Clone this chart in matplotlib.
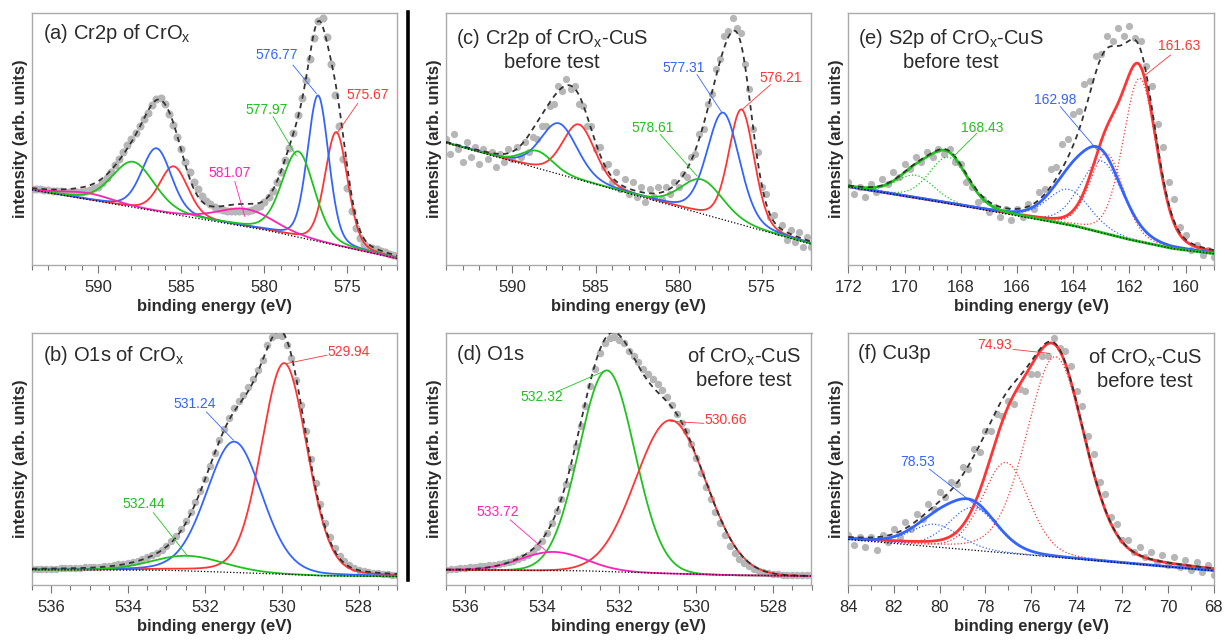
import numpy as np
import matplotlib
matplotlib.use("Agg")
import matplotlib.pyplot as plt
from matplotlib.ticker import MultipleLocator

plt.rcParams['font.family'] = ['Liberation Sans', 'DejaVu Sans']
plt.rcParams['mathtext.default'] = 'regular'

RED = '#ff3535'
BLUE = '#3464ff'
GREEN = '#1fc21f'
MAGENTA = '#ff22b4'
DOT = '#b6b6b6'
TXT = '#2b2b2b'

# ---------------- measured points (arb. units) ----------------
# (a) Cr2p of CrOx, 594 -> 572 eV
a_span = (594.0, 572.0)
a_counts = [30.3, 30.1, 30.0, 29.8, 29.6, 29.4, 29.3, 29.2, 29.1, 29.1, 29.0, 29.0, 29.1,
            29.3, 29.8, 30.5, 31.0, 32.5, 34.5, 37.0, 39.5, 42.0, 44.8, 47.5, 50.0, 52.5,
            55.0, 57.8, 60.5, 63.5, 66.0, 66.5, 64.0, 60.0, 55.5, 51.0, 46.0, 41.0, 37.0,
            33.0, 30.0, 27.5, 25.5, 24.0, 23.0, 22.2, 21.8, 21.5, 21.3, 21.2, 21.2, 21.3,
            21.5, 21.8, 22.4, 23.4, 25.0, 26.8, 29.5, 33.0, 37.0, 41.5, 46.5, 52.5, 59.5,
            66.5, 73.5, 82.0, 90.0, 97.0, 98.0, 90.5, 80.0, 67.5, 55.0, 42.0, 30.5, 21.5,
            14.5, 10.5, 8.2, 7.2, 6.6, 6.1, 5.6, 5.0, 4.4, 3.9, 3.4]

# (c) Cr2p of CrOx-CuS, 594 -> 572 eV
c_span = (594.0, 572.0)
c_counts = [50, 44, 52, 46, 41, 49, 43, 47, 40, 46, 42, 45, 39, 44, 41, 46, 42, 47, 43,
            49, 45, 51, 50, 55, 55, 63, 64, 71, 69, 74, 70, 71, 64, 63, 55, 55, 46, 47,
            39, 40, 33, 37, 30, 34, 28, 33, 27, 31, 25, 30, 27, 31, 26, 31, 28, 33, 31,
            36, 35, 43, 44, 52, 54, 64, 68, 78, 82, 91, 93, 98, 94, 92, 80, 70, 54, 45,
            31, 28, 19, 20, 13, 16, 10, 14, 9, 13, 7, 11, 7]

# (e) S2p of CrOx-CuS, 172 -> 159 eV
e_span = (172.0, 159.0)
e_counts = [33, 28, 31, 27, 32, 29, 34, 32, 37, 35, 40, 38, 43, 41, 45, 43, 46, 44, 46,
            41, 40, 33, 31, 25, 26, 21, 23, 19, 22, 18, 22, 19, 24, 22, 29, 30, 38, 39,
            48, 50, 60, 61, 72, 73, 83, 84, 91, 89, 94, 91, 95, 90, 89, 79, 71, 56, 47,
            33, 26, 15, 12, 6, 8, 4, 6, 3]

# (b) O1s of CrOx, 536.5 -> 527 eV
b_span = (536.5, 527.0)
b_counts = [6.2, 6.2, 6.3, 6.3, 6.4, 6.4, 6.5, 6.5, 6.6, 6.7, 6.8, 6.9, 7.0, 7.1, 7.2,
            7.4, 7.6, 7.9, 8.1, 8.4, 8.7, 9.1, 9.5, 10.2, 10.9, 11.7, 12.7, 13.9, 15.5,
            17.3, 19.5, 22.2, 25.3, 28.8, 32.9, 37.3, 42.2, 47.2, 52.3, 57.4, 62.1, 66.5,
            70.2, 73.0, 75.5, 78.5, 82.0, 85.5, 89.5, 95.5, 98.5, 99.5, 99.0, 95.5, 90.0,
            81.5, 71.5, 61.0, 50.0, 40.5, 32.0, 24.5, 19.0, 14.5, 11.5, 9.3, 7.8, 6.8,
            6.0, 5.4, 5.0, 4.7, 4.5, 4.3, 4.2, 4.0, 3.9]

# (d) O1s of CrOx-CuS, 536.5 -> 527 eV
d_span = (536.5, 527.0)
d_counts = [6.0, 6.2, 6.4, 6.6, 6.8, 7.0, 7.2, 7.4, 7.6, 7.8, 8.0, 8.3, 8.7, 9.1, 9.6,
            10.2, 11.0, 12.0, 13.3, 15.0, 17.5, 20.5, 24.5, 29.5, 34.0, 40.0, 47.0, 55.0,
            63.0, 71.0, 79.0, 86.0, 92.0, 96.0, 98.0, 98.5, 97.5, 96.0, 93.0, 91.0, 88.5,
            86.0, 84.0, 82.0, 80.0, 77.5, 74.5, 71.5, 68.0, 64.5, 61.0, 56.0, 50.3, 44.5,
            39.0, 34.0, 29.0, 24.5, 20.0, 15.5, 12.5, 10.3, 8.6, 7.3, 6.2, 5.5, 5.0, 4.6,
            4.3, 4.1, 4.0, 3.9, 3.9, 3.8, 3.8, 3.7, 3.7]

# (f) Cu3p of CrOx-CuS, 84 -> 68 eV
f_span = (84.0, 68.0)
f_counts = [20, 16, 19, 15, 19, 14, 20, 17, 22, 19, 25, 22, 28, 26, 32, 30, 37, 35, 41,
            40, 47, 46, 54, 53, 61, 61, 68, 67, 73, 72, 78, 77, 84, 84, 91, 91, 98, 94,
            93, 87, 77, 71, 59, 52, 41, 36, 27, 24, 18, 18, 13, 15, 11, 13, 9, 12, 8, 11,
            7, 10, 6, 9, 5, 8, 4]

# ---------------- fitted components ----------------
# background anchors (energy, intensity)
a_bg = ([594, 580, 572], [29.8, 13.9, 2.5])
c_bg = ([594, 572], [48.5, 8.2])
e_bg = ([172, 169, 166, 164, 162, 160.5, 159], [31, 25.5, 19.5, 15.5, 10, 6.5, 4.4])
b_bg = ([536.5, 533, 531, 529, 527], [6.0, 5.8, 4.8, 3.6, 3.3])
d_bg = ([536.5, 533, 531, 529, 527], [6.0, 5.6, 4.6, 3.8, 3.5])
f_bg = ([84, 68], [18.0, 5.6])

# per component: colour, peak centres, heights, FWHM
a_colors = [RED, BLUE, GREEN, MAGENTA]
a_pos = [[575.67, 585.45], [576.77, 586.49], [577.97, 587.90], [581.07, 590.60]]
a_amp = [[45, 19], [58, 25], [34, 18], [7, 2.5]]
a_fwhm = [[1.6, 2.0], [1.5, 2.1], [2.3, 3.0], [4.0, 3.5]]

c_colors = [RED, BLUE, GREEN]
c_pos = [[576.21, 586.00], [577.31, 587.20], [578.61, 588.50]]
c_amp = [[45.8, 21.9], [42.5, 20.1], [13.6, 6.8]]
c_fwhm = [[1.8, 2.3], [2.3, 2.6], [3.0, 2.2]]

e_colors = [RED, BLUE, GREEN]
e_pos = [[161.63, 162.81], [162.98, 164.16], [168.43, 169.61]]
e_amp = [[65, 32], [28.5, 14.2], [18.4, 9.0]]
e_fwhm = [[1.4, 1.4], [1.8, 1.8], [1.6, 1.6]]

b_colors = [RED, BLUE, GREEN]
b_pos = [[529.94], [531.24], [532.44]]
b_amp = [[84], [52], [6]]
b_fwhm = [[1.4], [1.7], [2.2]]

d_colors = [GREEN, RED, MAGENTA]
d_pos = [[532.32], [530.66], [533.72]]
d_amp = [[80], [61], [7.4]]
d_fwhm = [[1.7], [2.15], [2.0]]

f_colors = [RED, BLUE]
f_pos = [[74.93, 77.10], [78.53, 80.20]]
f_amp = [[79.7, 36], [17, 9]]
f_fwhm = [[3.0, 2.4], [2.5, 2.5]]

# peak labels: text, colour, text pos, leader start, leader end
a_labels = [("576.77", BLUE, (579.28, 83.3), (578.28, 79.4), (576.87, 68.1)),
            ("575.67", RED, (573.77, 67.5), (574.38, 64.2), (575.64, 52.2)),
            ("577.97", GREEN, (579.88, 61.5), (579.48, 58.9), (578.08, 43.3)),
            ("581.07", MAGENTA, (582.08, 36.4), (581.78, 33.1), (581.18, 19.2))]
c_labels = [("577.31", BLUE, (579.69, 78.2), (578.89, 75.6), (577.38, 60.4)),
            ("576.21", RED, (573.87, 74.2), (574.47, 71.6), (576.18, 61.7)),
            ("578.61", GREEN, (581.54, 54.4), (581.10, 51.8), (578.89, 35.3))]
e_labels = [("161.63", RED, (160.24, 86.8), (160.54, 83.4), (161.43, 75.5)),
            ("162.98", BLUE, (164.64, 65.6), (164.46, 62.9), (163.15, 45.7)),
            ("168.43", GREEN, (167.25, 54.3), (167.43, 52.3), (168.26, 43.0))]
b_labels = [("529.94", RED, (528.27, 92.7), (528.83, 91.3), (529.87, 88.0)),
            ("531.24", BLUE, (532.26, 72.0), (531.96, 68.7), (531.26, 57.5)),
            ("532.44", GREEN, (533.60, 32.0), (533.34, 28.7), (532.48, 12.0))]
d_labels = [("532.32", GREEN, (534.01, 74.8), (533.62, 76.8), (532.41, 84.8)),
            ("530.66", RED, (529.24, 65.6), (529.80, 64.2), (530.67, 65.0)),
            ("533.72", MAGENTA, (535.16, 28.9), (534.83, 25.8), (533.88, 13.2))]
f_labels = [("74.93", RED, (77.60, 95.3), (76.79, 93.6), (75.18, 92.0)),
            ("78.53", BLUE, (80.97, 48.7), (80.45, 46.0), (77.52, 25.3))]


def voigt(e, centre, height, fwhm, eta):
    x = (e - centre) / fwhm
    g = np.exp(-4 * np.log(2) * x ** 2)
    lor = 1.0 / (1.0 + 4 * x ** 2)
    return height * ((1 - eta) * g + eta * lor)


def draw_panel(ax, span, counts, bg, colors, pos, amp, fwhm, labels,
               doublet=False, eta=0.2, ms=5.4):
    e_pts = np.linspace(span[0], span[1], len(counts))
    ax.plot(e_pts, counts, 'o', ms=ms, color=DOT, mec='none', zorder=1)

    e = np.linspace(span[0], span[1], 600)
    base = np.interp(e, bg[0][::-1], bg[1][::-1])
    total = base.copy()
    for col, p, h, w in zip(colors, pos, amp, fwhm):
        parts = [voigt(e, pi, hi, wi, eta) for pi, hi, wi in zip(p, h, w)]
        if doublet:
            for part in parts:
                ax.plot(e, base + part, ':', color=col, lw=0.9, zorder=2)
            ax.plot(e, base + sum(parts), '-', color=col, lw=2.0, zorder=3)
        else:
            ax.plot(e, base + sum(parts), '-', color=col, lw=1.3, zorder=3)
        total += sum(parts)
    ax.plot(e, total, color='#333333', lw=1.3, dashes=(3, 2.4), zorder=4)
    ax.plot(e, base, color='black', lw=0.9, dashes=(1, 1.6), zorder=5)

    for txt, col, tp, p0, p1 in labels:
        ax.plot([p0[0], p1[0]], [p0[1], p1[1]], color=col, lw=0.6, zorder=6)
        ax.text(tp[0], tp[1], txt, color=col, fontsize=10, ha='center', va='center', zorder=7)

    ax.set_xlim(span)
    ax.set_ylim(0, 100)
    ax.set_yticks([])
    for s in ax.spines.values():
        s.set_color('#aaaaaa')
        s.set_linewidth(1.0)
    ax.tick_params(axis='x', which='major', direction='out', length=6, width=0.8,
                   color='#777777', labelsize=12, labelcolor=TXT, pad=5)
    ax.tick_params(axis='x', which='minor', direction='out', length=3.5, width=0.8,
                   color='#777777')
    ax.set_xlabel('binding energy (eV)', fontsize=12, fontweight='bold', color=TXT, labelpad=3)
    ax.set_ylabel('intensity (arb. units)', fontsize=12, fontweight='bold', color=TXT, labelpad=3)


fig = plt.figure(figsize=(12.25, 6.41), dpi=100)
W, H = 1225.0, 641.0
lefts = [31.8, 446.0, 848.3]
tops = [13.3, 333.3]
aw, ah = 365.5, 251.5


def make_axes(col, row):
    return fig.add_axes([lefts[col] / W, 1 - (tops[row] + ah) / H, aw / W, ah / H])


ax_a = make_axes(0, 0)
ax_b = make_axes(0, 1)
ax_c = make_axes(1, 0)
ax_d = make_axes(1, 1)
ax_e = make_axes(2, 0)
ax_f = make_axes(2, 1)

draw_panel(ax_a, a_span, a_counts, a_bg, a_colors, a_pos, a_amp, a_fwhm, a_labels, ms=5.8)
draw_panel(ax_c, c_span, c_counts, c_bg, c_colors, c_pos, c_amp, c_fwhm, c_labels, ms=5.2)
draw_panel(ax_e, e_span, e_counts, e_bg, e_colors, e_pos, e_amp, e_fwhm, e_labels,
           doublet=True, ms=5.2)
draw_panel(ax_b, b_span, b_counts, b_bg, b_colors, b_pos, b_amp, b_fwhm, b_labels, eta=0.15)
draw_panel(ax_d, d_span, d_counts, d_bg, d_colors, d_pos, d_amp, d_fwhm, d_labels, eta=0.0)
draw_panel(ax_f, f_span, f_counts, f_bg, f_colors, f_pos, f_amp, f_fwhm, f_labels,
           doublet=True, ms=5.2)

for ax in (ax_a, ax_c):
    ax.xaxis.set_major_locator(MultipleLocator(5))
    ax.xaxis.set_minor_locator(MultipleLocator(1))
for ax in (ax_b, ax_d, ax_e):
    ax.xaxis.set_major_locator(MultipleLocator(2))
    ax.xaxis.set_minor_locator(MultipleLocator(0.5))
ax_f.xaxis.set_major_locator(MultipleLocator(2))
ax_f.xaxis.set_minor_locator(MultipleLocator(1))

title_kw = dict(fontsize=14.5, color=TXT, va='center')
ax_a.text(0.031, 0.92, '(a) Cr2p of CrO$_x$', transform=ax_a.transAxes, ha='left', **title_kw)
ax_b.text(0.031, 0.913, '(b) O1s of CrO$_x$', transform=ax_b.transAxes, ha='left', **title_kw)
ax_c.text(0.29, 0.857, '(c) Cr2p of CrO$_x$-CuS\nbefore test', transform=ax_c.transAxes,
          ha='center', multialignment='center', **title_kw)
ax_d.text(0.029, 0.914, '(d) O1s', transform=ax_d.transAxes, ha='left', **title_kw)
ax_d.text(0.815, 0.861, 'of CrO$_x$-CuS\nbefore test', transform=ax_d.transAxes,
          ha='center', multialignment='center', **title_kw)
ax_e.text(0.28, 0.857, '(e) S2p of CrO$_x$-CuS\nbefore test', transform=ax_e.transAxes,
          ha='center', multialignment='center', **title_kw)
ax_f.text(0.027, 0.92, '(f) Cu3p', transform=ax_f.transAxes, ha='left', **title_kw)
ax_f.text(0.812, 0.86, 'of CrO$_x$-CuS\nbefore test', transform=ax_f.transAxes,
          ha='center', multialignment='center', **title_kw)

# separator between the CrOx and CrOx-CuS columns
fig.add_artist(plt.Line2D([407.5 / W, 407.5 / W], [1 - 12 / H, 1 - 580 / H],
                          color='black', lw=2.6))

fig.savefig('out.png', dpi=100)
